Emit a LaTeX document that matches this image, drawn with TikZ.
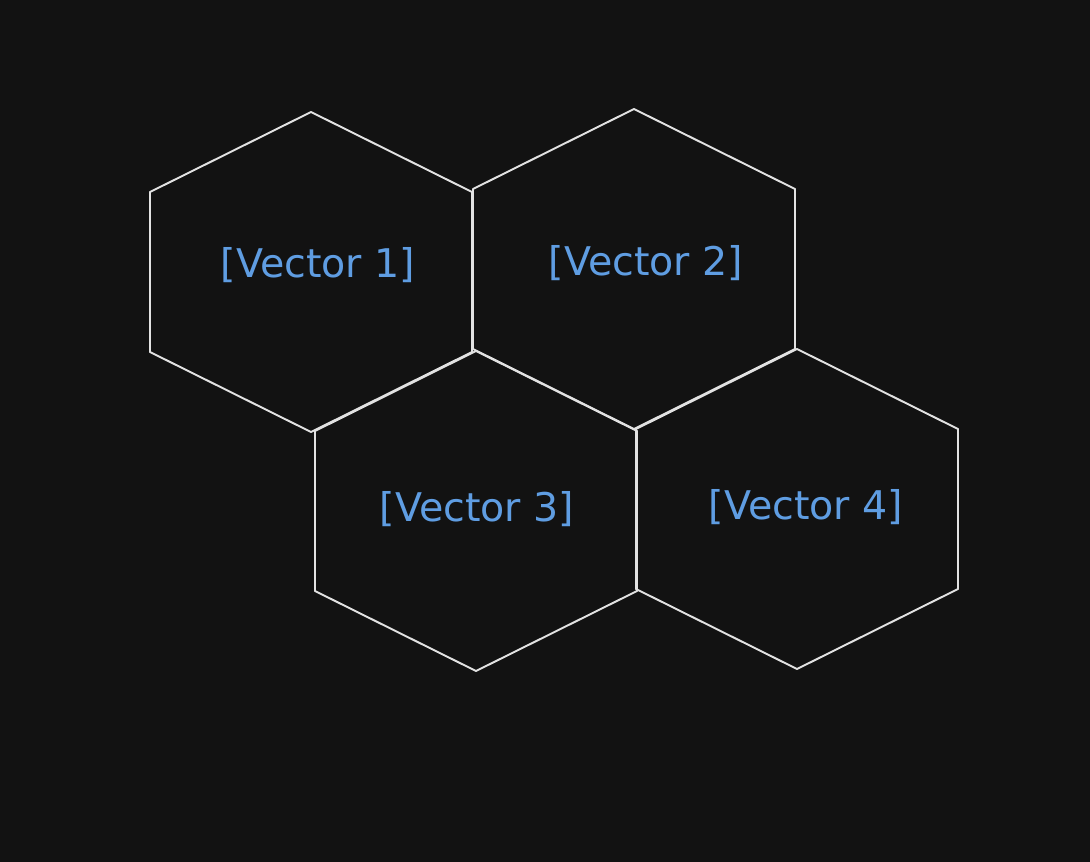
\documentclass[tikz,border=0pt]{standalone}
\usepackage{fontspec}
\setmainfont{DejaVu Sans}
\usepackage{tikz}
\usetikzlibrary{positioning}
\definecolor{bgdark}{HTML}{121212}
\definecolor{edgegray}{HTML}{E2E2E2}
\definecolor{vecblue}{HTML}{5F9DE2}

\begin{document}
\begin{tikzpicture}[
				x = 0.02cm, y = -0.02cm,
				hexedge/.style = {draw = edgegray, line width = 1.1pt, line join = round},
				veclabel/.style = {text = vecblue, font = \fontsize{22.5}{27}\selectfont}
			]

			\fill[bgdark] (0,0) rectangle (1090,862);
			\useasboundingbox (0,0) rectangle (1090,862);

			% hexagon centre, label position, number
			\foreach \cx/\cy/\lx/\ly/\n in {311/272/318/265/1, 634/269/646/263/2, 476/511/477/509/3, 797/509/806/507/4}{
				\draw[hexedge] (\cx,\cy-160) -- ++(161,80) -- ++(0,160) -- ++(-161,80) -- ++(-161,-80) -- ++(0,-160) -- cycle;
				\node[veclabel] (vec\n) at (\lx,\ly) {[Vector \n]};
			}

			\end{tikzpicture}
\end{document}
